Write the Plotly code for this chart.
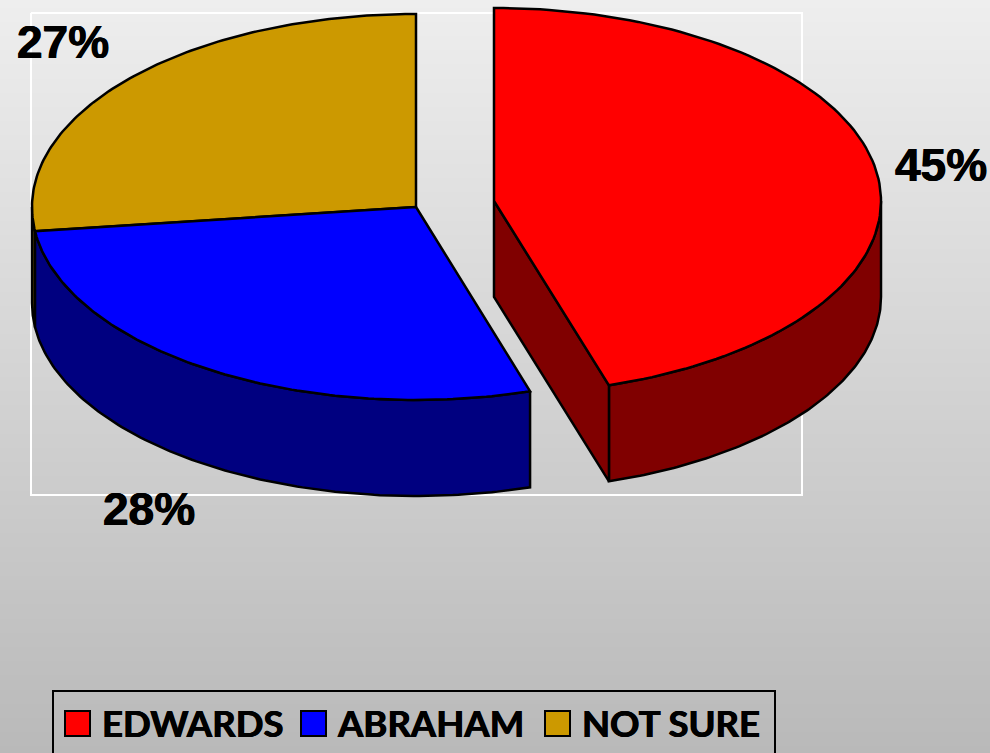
import numpy as np
import plotly.graph_objects as go

# ---------- data ----------
categories = ["EDWARDS", "ABRAHAM", "NOT SURE"]
shares = [45.2, 27.8, 27.0]
share_labels = ["45%", "28%", "27%"]
top_colors = ["#ff0000", "#0000ff", "#cc9900"]
side_colors = ["#800000", "#000080", "#665000"]

# ---------- page geometry (pixels) ----------
W, H = 990, 753
CENTERS = [(494, 201), (416, 207), (416, 207)]
RX = [387, 384, 384]
RY = 193
DEPTH = 96
FRAME_X = [31, 802, 802, 31, 31]
FRAME_Y = [13, 13, 495, 495, 13]
LABEL_POS = [(941, 165), (149, 509), (63, 42)]
LEGEND_BOX = (53, 691, 775, 770)
LEGEND_SWATCH_X = [65, 301, 545]
LEGEND_TEXT_X = [103, 338, 583]
LEGEND_SWATCH_Y = (711, 736)
BG_Y = [0, 753]
BG_LEVEL = [238, 185]
HEAVY = "0.5px 0 0 #000, -0.5px 0 0 #000"


def arc(i, a0, a1, dy=0, n=120):
    """Points of slice i's ellipse, angles clockwise from 12 o'clock, degrees."""
    t = np.radians(np.linspace(a0, a1, n))
    cx, cy = CENTERS[i]
    return cx + RX[i] * np.sin(t), cy - RY * np.cos(t) + dy


def polygon(fig, xs, ys, fill):
    fig.add_trace(go.Scatter(
        x=list(xs), y=list(ys), mode="lines", fill="toself", fillcolor=fill,
        line=dict(color="#000000", width=2.5), hoverinfo="skip", showlegend=False))


fig = go.Figure()

# background gradient
fig.add_trace(go.Heatmap(
    x=[-10, W + 10], y=BG_Y, z=[[BG_LEVEL[0]] * 2, [BG_LEVEL[1]] * 2],
    zmin=BG_LEVEL[1], zmax=BG_LEVEL[0], zsmooth="best", showscale=False, hoverinfo="skip",
    colorscale=[[0, f"rgb({BG_LEVEL[1]},{BG_LEVEL[1]},{BG_LEVEL[1]})"],
                [1, f"rgb({BG_LEVEL[0]},{BG_LEVEL[0]},{BG_LEVEL[0]})"]]))

# plot-area frame
fig.add_trace(go.Scatter(x=FRAME_X, y=FRAME_Y, mode="lines", line=dict(color="#ffffff", width=2),
                         hoverinfo="skip", showlegend=False))

# slice angles from the data
total = sum(shares)
edges = np.concatenate([[0], np.cumsum(shares) / total * 360])
order = [2, 1, 0]  # back to front

for i in order:
    a0, a1 = edges[i], edges[i + 1]
    # outer wall: only the front half of the ellipse shows
    w0, w1 = max(a0, 90), min(a1, 270)
    if w1 > w0:
        xt, yt = arc(i, w0, w1)
        xb, yb = arc(i, w0, w1, DEPTH)
        polygon(fig, np.r_[xt, xb[::-1], xt[0]], np.r_[yt, yb[::-1], yt[0]], side_colors[i])
    # exploded slice: cut face facing the viewer
    if i == 0:
        cx, cy = CENTERS[i]
        ex, ey = arc(i, a1, a1, n=1)
        polygon(fig, [cx, ex[0], ex[0], cx, cx],
                [cy, ey[0], ey[0] + DEPTH, cy + DEPTH, cy], side_colors[i])
    # top face
    cx, cy = CENTERS[i]
    xt, yt = arc(i, a0, a1)
    polygon(fig, np.r_[cx, xt, cx], np.r_[cy, yt, cy], top_colors[i])

# percentage labels
annotations = [
    dict(x=x, y=y, text=t, showarrow=False, xanchor="center", yanchor="middle",
         font=dict(family="Liberation Sans", size=46, color="#000000", shadow=HEAVY), xref="x", yref="y")
    for t, (x, y) in zip([f"<b>{s}</b>" for s in share_labels], LABEL_POS)
]

# legend
shapes = [dict(type="rect", x0=LEGEND_BOX[0], y0=LEGEND_BOX[1], x1=LEGEND_BOX[2], y1=LEGEND_BOX[3],
               line=dict(color="#000000", width=2), fillcolor="rgba(0,0,0,0)", layer="above")]
for name, col, sx, tx in zip(categories, top_colors, LEGEND_SWATCH_X, LEGEND_TEXT_X):
    shapes.append(dict(type="rect", x0=sx, x1=sx + 25, y0=LEGEND_SWATCH_Y[0], y1=LEGEND_SWATCH_Y[1],
                       fillcolor=col, line=dict(color="#000000", width=2), layer="above"))
    annotations.append(dict(x=tx, y=723, text=f"<b>{name}</b>", showarrow=False, xanchor="left",
                            yanchor="middle", xshift=-2, borderpad=0,
                            font=dict(family="Lato", size=36.5, color="#000000", shadow=HEAVY),
                            xref="x", yref="y"))

fig.update_layout(
    width=W, height=H, margin=dict(l=0, r=0, t=0, b=0), autosize=False,
    paper_bgcolor="#d0d0d0", plot_bgcolor="rgba(0,0,0,0)", showlegend=False,
    xaxis=dict(range=[0, W], visible=False, fixedrange=True),
    yaxis=dict(range=[H, 0], visible=False, fixedrange=True),
    shapes=shapes, annotations=annotations)

fig.write_html("out.html", config=dict(displayModeBar=False, responsive=False),
               post_script="document.body.style.margin='0';document.body.style.overflow='hidden';")
